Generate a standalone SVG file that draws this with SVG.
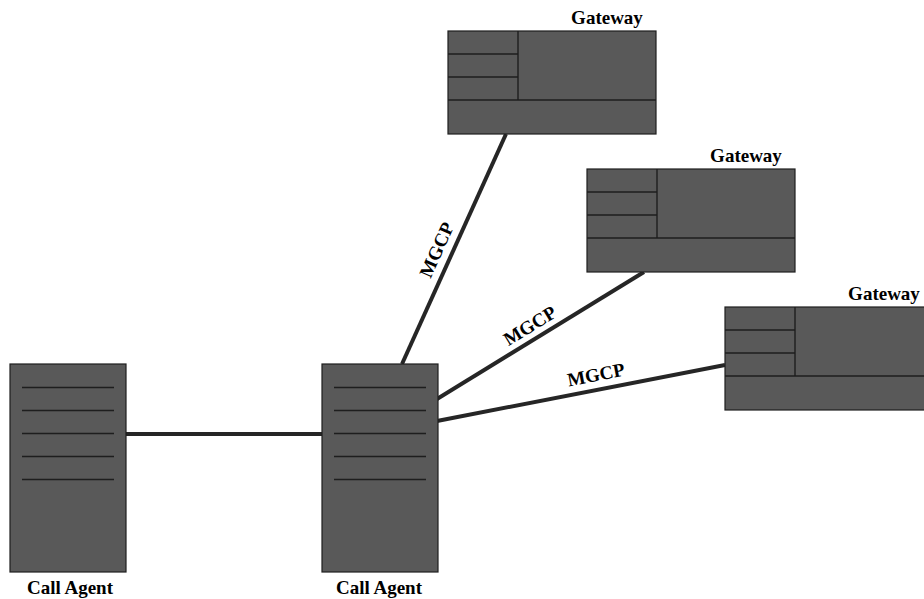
<svg xmlns="http://www.w3.org/2000/svg" width="924" height="599" viewBox="0 0 924 599">
  <style>
    .box { fill: #595959; stroke: #1e1e1e; stroke-width: 1.2; }
    .inner { stroke: #1e1e1e; stroke-width: 1.4; fill: none; }
    .link { stroke: #262626; stroke-width: 4; fill: none; }
    .label { font-family: 'Liberation Serif', 'DejaVu Serif', serif; font-weight: 700; font-size: 19px; fill: #000; text-anchor: middle; }
    .proto { font-family: 'Liberation Serif', 'DejaVu Serif', serif; font-weight: 700; font-size: 19px; fill: #000; text-anchor: middle; }
  </style>
  <defs>
    <!-- gateway chassis, origin at top-left -->
    <g id="gw-shape">
      <rect class="box" x="0" y="0" width="208" height="103"/>
      <path class="inner" d="M70 0V69M0 69H208M0 23H70M0 46H70"/>
    </g>
    <!-- call agent tower, origin at top-left -->
    <g id="ca-shape">
      <rect class="box" x="0" y="0" width="116" height="208"/>
      <path class="inner" d="M12 23.5H104M12 46.5H104M12 69.5H104M12 92.5H104M12 115.5H104"/>
    </g>
  </defs>

  <g id="connectors">
    <line class="link" x1="126" y1="434" x2="322" y2="434"/>
    <line class="link" x1="402" y1="364" x2="506" y2="134"/>
    <line class="link" x1="437" y1="399" x2="644" y2="272"/>
    <line class="link" x1="437" y1="421" x2="725" y2="365"/>
    <text class="proto" transform="translate(437 250) rotate(-65.7)" y="6">MGCP</text>
    <text class="proto" transform="translate(530 326) rotate(-31.5)" y="6">MGCP</text>
    <text class="proto" transform="translate(596 375) rotate(-10.9)" y="6">MGCP</text>
  </g>

  <g id="gateway-1">
    <use href="#gw-shape" x="448" y="31"/>
    <text class="label" x="607" y="24">Gateway</text>
  </g>
  <g id="gateway-2">
    <use href="#gw-shape" x="587" y="169"/>
    <text class="label" x="746" y="162">Gateway</text>
  </g>
  <g id="gateway-3">
    <use href="#gw-shape" x="725" y="307"/>
    <text class="label" x="884" y="300">Gateway</text>
  </g>
  <g id="call-agent-1">
    <use href="#ca-shape" x="10" y="364"/>
    <text class="label" x="70" y="594">Call Agent</text>
  </g>
  <g id="call-agent-2">
    <use href="#ca-shape" x="322" y="364"/>
    <text class="label" x="379" y="594">Call Agent</text>
  </g>
</svg>
